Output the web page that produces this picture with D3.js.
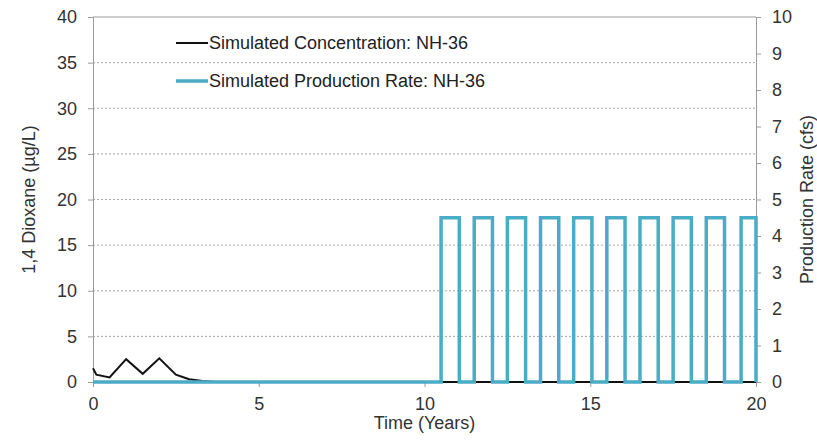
<!DOCTYPE html>
<html>
<head>
<meta charset="utf-8">
<script src="https://cdn.jsdelivr.net/npm/d3@7.9.0/dist/d3.min.js"></script>
<style>
  body { margin: 0; background: #fff; }
  svg { display: block; font-family: "Liberation Sans", Arial, sans-serif; }
</style>
</head>
<body>
<svg id="chart" width="817" height="445"></svg>
<script>
// concentration series (years, ug/L)
const concYears = [0, 0.1, 0.5, 1.0, 1.5, 2.0, 2.5, 2.9, 3.3, 3.7, 20];
const concValues = [1.5, 0.8, 0.5, 2.5, 0.9, 2.6, 0.8, 0.3, 0.1, 0, 0];

// production pulses (years on/off, cfs)
const pulseOn = [10.5, 11.5, 12.5, 13.5, 14.5, 15.5, 16.5, 17.5, 18.5, 19.55];
const pulseOff = [11.05, 12.05, 13.05, 14.05, 15.05, 16.05, 17.05, 18.05, 19.05, 20];
const pulseRate = 4.5;

const xTicks = [0, 5, 10, 15, 20];
const yLeftTicks = [0, 5, 10, 15, 20, 25, 30, 35, 40];
const yRightTicks = [0, 1, 2, 3, 4, 5, 6, 7, 8, 9, 10];

const legendItems = ['Simulated Concentration: NH-36', 'Simulated Production Rate: NH-36'];

const margin = { top: 17, right: 61, bottom: 63, left: 93 };
const width = 817, height = 445;
const blue = '#4bacc6';
const axisGrey = '#9a9a9a';
const textCol = '#333';
const fontSize = '18px';

const svg = d3.select('#chart');

const x = d3.scaleLinear().domain([0, 20]).range([margin.left, width - margin.right]);
const yL = d3.scaleLinear().domain([0, 40]).range([height - margin.bottom, margin.top]);
const yR = d3.scaleLinear().domain([0, 10]).range([height - margin.bottom, margin.top]);

// gridlines
svg.append('g')
  .selectAll('line')
  .data(yLeftTicks.filter(d => d > 0 && d < 40))
  .join('line')
  .attr('x1', x(0)).attr('x2', x(20))
  .attr('y1', d => yL(d)).attr('y2', d => yL(d))
  .attr('stroke', '#a6a6a6')
  .attr('stroke-dasharray', '2,2')
  .attr('stroke-width', 1);

// top border
svg.append('line')
  .attr('x1', x(0)).attr('x2', x(20))
  .attr('y1', yL(40)).attr('y2', yL(40))
  .attr('stroke', axisGrey);

// axes
const styleAxis = g => {
  g.selectAll('.domain').attr('stroke', axisGrey);
  g.selectAll('.tick line').attr('stroke', axisGrey);
  g.selectAll('.tick text').attr('fill', textCol).style('font-size', fontSize);
};

svg.append('g')
  .attr('transform', `translate(${margin.left},0)`)
  .call(d3.axisLeft(yL).tickValues(yLeftTicks).tickSize(5).tickSizeOuter(0).tickPadding(11))
  .call(styleAxis);

svg.append('g')
  .attr('transform', `translate(${width - margin.right},0)`)
  .call(d3.axisRight(yR).tickValues(yRightTicks).tickSize(5).tickSizeOuter(0).tickPadding(11))
  .call(styleAxis);

svg.append('g')
  .attr('transform', `translate(0,${height - margin.bottom})`)
  .call(d3.axisBottom(x).tickValues(xTicks).tickSize(5).tickSizeOuter(0).tickPadding(10))
  .call(styleAxis);

// axis titles
svg.append('text')
  .attr('transform', `translate(35,${(yL(0) + yL(40)) / 2}) rotate(-90)`)
  .attr('text-anchor', 'middle')
  .attr('fill', textCol)
  .style('font-size', fontSize)
  .text('1,4 Dioxane (µg/L)');

svg.append('text')
  .attr('transform', `translate(813,${(yL(0) + yL(40)) / 2}) rotate(-90)`)
  .attr('text-anchor', 'middle')
  .attr('fill', textCol)
  .style('font-size', fontSize)
  .text('Production Rate (cfs)');

svg.append('text')
  .attr('x', (x(0) + x(20)) / 2)
  .attr('y', 429)
  .attr('text-anchor', 'middle')
  .attr('fill', textCol)
  .style('font-size', fontSize)
  .text('Time (Years)');

// concentration line
const concData = concYears.map((t, i) => ({ t, v: concValues[i] }));
svg.append('path')
  .datum(concData)
  .attr('fill', 'none')
  .attr('stroke', '#111')
  .attr('stroke-width', 2)
  .attr('d', d3.line().x(d => x(d.t)).y(d => yL(d.v)));

// production rate as step line
const rateData = [{ t: 0, v: 0 }];
pulseOn.forEach((on, i) => {
  rateData.push({ t: on, v: 0 }, { t: on, v: pulseRate }, { t: pulseOff[i], v: pulseRate }, { t: pulseOff[i], v: 0 });
});
svg.append('path')
  .datum(rateData)
  .attr('fill', 'none')
  .attr('stroke', blue)
  .attr('stroke-width', 3.5)
  .attr('stroke-linejoin', 'miter')
  .attr('d', d3.line().x(d => x(d.t)).y(d => yR(d.v)));

// legend
const legend = svg.append('g');
const legendRows = legend.selectAll('g')
  .data(legendItems)
  .join('g')
  .attr('transform', (d, i) => `translate(176,${43 + i * 38})`);
legendRows.append('line')
  .attr('x1', 0).attr('x2', 32)
  .attr('stroke', (d, i) => i === 0 ? '#111' : blue)
  .attr('stroke-width', (d, i) => i === 0 ? 2 : 3.5);
legendRows.append('text')
  .attr('x', 33)
  .attr('dy', '0.35em')
  .attr('fill', '#222')
  .style('font-size', fontSize)
  .text(d => d);
</script>
</body>
</html>
